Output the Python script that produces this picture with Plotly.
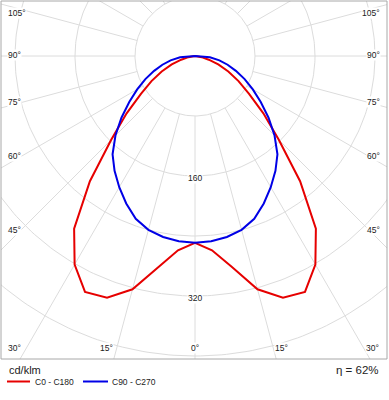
import numpy as np
import plotly.graph_objects as go

# ---- data (cd/klm) ----
gamma_deg = [0, 5, 10, 15, 20, 25, 30, 35, 40, 45, 50, 55, 60, 65, 70, 75, 80, 85, 90]
c0_c180 = [249, 260, 286, 322, 343, 347, 321, 281, 218, 158, 119, 88, 67, 49, 33, 19, 9, 3, 0]
c90_c270 = [249, 248, 245, 240, 231, 217, 202, 187, 171, 150, 128, 107, 89, 73, 58, 45, 33, 20, 0]
ring_values = [80, 160, 240, 320, 400, 480, 560]
ring_labels = ["160", "320"]
angle_labels = ["105°", "90°", "75°", "60°", "45°"]
bottom_labels = ["30°", "15°", "0°", "15°", "30°"]
series_names = ["C0 - C180", "C90 - C270"]
series_colors = ["#e60000", "#0000e6"]
unit_text = "cd/klm"
eta_text = "η = 62%"

W, H = 389, 400
# plot frame in pixels
PX0, PX1, PY0, PY1 = 1, 387, 1, 359
CX, CY = 195, 56          # pole position in pixels
S = 0.75                  # pixels per cd/klm

xr = [(PX0 - CX) / S, (PX1 - CX) / S]
yr = [(CY - PY1) / S, (CY - PY0) / S]

def px2paper(px, py):
    return (px - PX0) / (PX1 - PX0), (PY1 - py) / (PY1 - PY0)

fig = go.Figure()
grid = "#dcdcdc"

# rings
t = np.linspace(0, 2 * np.pi, 361)
for rv in ring_values:
    fig.add_trace(go.Scatter(x=rv * np.cos(t), y=rv * np.sin(t), mode="lines",
                             line=dict(color=grid, width=1), hoverinfo="skip", showlegend=False))
# radial lines
for a in range(0, 360, 15):
    ar = np.radians(a)
    fig.add_trace(go.Scatter(x=[80 * np.sin(ar), 700 * np.sin(ar)],
                             y=[-80 * np.cos(ar), -700 * np.cos(ar)], mode="lines",
                             line=dict(color=grid, width=1), hoverinfo="skip", showlegend=False))

# curves (mirrored planes)
g = np.radians(np.array(gamma_deg, dtype=float))
for vals, name, col in zip([c0_c180, c90_c270], series_names, series_colors):
    v = np.array(vals, dtype=float)
    xl = -v * np.sin(g)
    yl = -v * np.cos(g)
    xs = np.concatenate([xl[::-1], -xl[1:]])
    ys = np.concatenate([yl[::-1], yl[1:]])
    fig.add_trace(go.Scatter(x=xs, y=ys, mode="lines", name=name,
                             line=dict(color=col, width=2), showlegend=False))

lab_font = dict(family="Liberation Sans, Arial, sans-serif", size=8.5, color="#222222")
ann = []
# ring labels
for lab in ring_labels:
    ann.append(dict(x=0, y=-float(lab), xref="x", yref="y", text=lab, showarrow=False,
                    font=lab_font, bgcolor="white", yshift=-2, borderpad=0))
# side angle labels
side_y = [13, 55, 102, 156, 230]
for lab, py in zip(angle_labels, side_y):
    xp, yp = px2paper(7, py)
    ann.append(dict(x=xp, y=yp, xref="paper", yref="paper", text=lab, showarrow=False,
                    xanchor="left", yanchor="middle", font=lab_font, bgcolor="white", borderpad=0))
    xp, yp = px2paper(381, py)
    ann.append(dict(x=xp, y=yp, xref="paper", yref="paper", text=lab, showarrow=False,
                    xanchor="right", yanchor="middle", font=lab_font, bgcolor="white", borderpad=0))
# bottom labels
bottom_x = [15, 107, 195, 281, 372]
for lab, px in zip(bottom_labels, bottom_x):
    xp, yp = px2paper(px, 348)
    ann.append(dict(x=xp, y=yp, xref="paper", yref="paper", text=lab, showarrow=False,
                    xanchor="center", yanchor="middle", font=lab_font, bgcolor="white", borderpad=0))

# unit + efficiency
xp, yp = px2paper(7, 370)
ann.append(dict(x=xp, y=yp, xref="paper", yref="paper", text=unit_text, showarrow=False,
                xanchor="left", yanchor="middle",
                font=dict(family="Liberation Sans, Arial, sans-serif", size=11, color="#222222")))
xp, yp = px2paper(381, 370)
ann.append(dict(x=xp, y=yp, xref="paper", yref="paper", text=eta_text, showarrow=False,
                xanchor="right", yanchor="middle",
                font=dict(family="Liberation Sans, Arial, sans-serif", size=11.5, color="#222222")))

# legend
shapes = []
leg = [(7, 30, 33), (83, 108, 110)]
for (x0, x1, xt), name, col in zip(leg, series_names, series_colors):
    a0, yy = px2paper(x0, 381.5)
    a1, _ = px2paper(x1, 381.5)
    shapes.append(dict(type="line", xref="paper", yref="paper", x0=a0, x1=a1, y0=yy, y1=yy,
                       line=dict(color=col, width=2)))
    at, _ = px2paper(xt, 381.5)
    ann.append(dict(x=at, y=yy, xref="paper", yref="paper", text=name, showarrow=False,
                    xanchor="left", yanchor="middle",
                    font=dict(family="Liberation Sans, Arial, sans-serif", size=8.5, color="#222222")))

# frame
shapes.append(dict(type="rect", xref="paper", yref="paper", x0=0, x1=1, y0=0, y1=1,
                   line=dict(color="#a8a8a8", width=1)))

fig.update_layout(
    width=W, height=H,
    margin=dict(l=PX0, r=W - PX1, t=PY0, b=H - PY1, pad=0),
    paper_bgcolor="white", plot_bgcolor="white",
    xaxis=dict(range=xr, visible=False, fixedrange=True),
    yaxis=dict(range=yr, visible=False, fixedrange=True),
    annotations=ann, shapes=shapes, showlegend=False,
)
fig.write_html("out.html", config={"displayModeBar": False},
               post_script="document.body.style.margin='0';document.body.style.overflow='hidden';")
